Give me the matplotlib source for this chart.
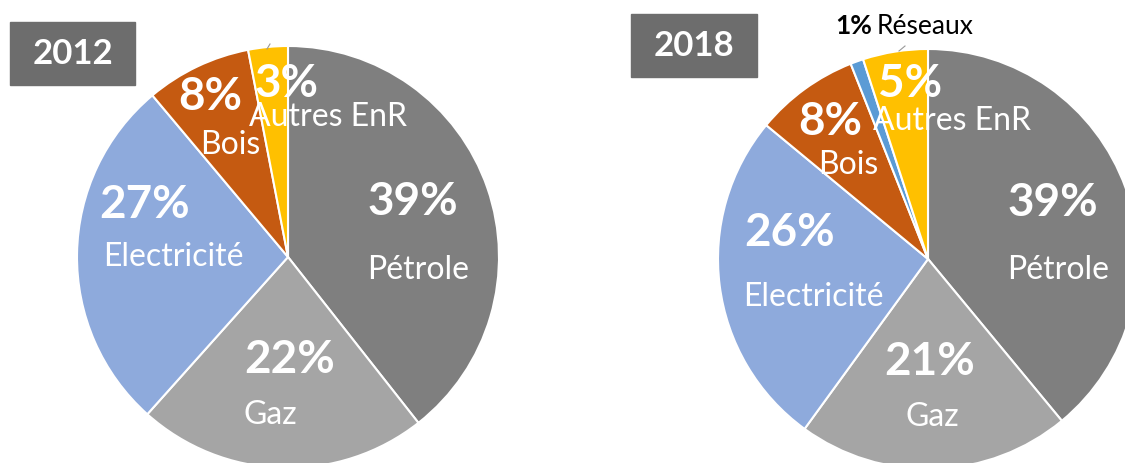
import matplotlib.pyplot as plt

# parts de chaque energie (en %), dans l'ordre horaire depuis le haut
labels_2012 = ["Pétrole", "Gaz", "Electricité", "Bois", "Autres EnR"]
values_2012 = [39, 22, 27, 8, 3]

labels_2018 = ["Pétrole", "Gaz", "Electricité", "Bois", "Réseaux", "Autres EnR"]
values_2018 = [39, 21, 26, 8, 1, 5]

colors = {
    "Pétrole": "#7f7f7f",
    "Gaz": "#a5a5a5",
    "Electricité": "#8eaadc",
    "Bois": "#c55a11",
    "Réseaux": "#5b9bd5",
    "Autres EnR": "#ffc000",
}

W, H = 1125, 464
plt.rcParams["font.family"] = ["Lato", "DejaVu Sans"]

fig = plt.figure(figsize=(W / 100, H / 100), dpi=100)
ax = fig.add_axes([0, 0, 1, 1])


def Y(y):
    # coordonnees pixel (y vers le bas) -> donnees
    return H - y


def draw_pie(labels, values, cx, cy, r):
    ax.pie(values, colors=[colors[l] for l in labels], startangle=90,
           counterclock=False, center=(cx, Y(cy)), radius=r,
           wedgeprops=dict(edgecolor="white", linewidth=1.5))


draw_pie(labels_2012, values_2012, 288, 258, 211)
draw_pie(labels_2018, values_2018, 928, 260, 210)

# positions des etiquettes (pixels) : (pourcentage, nom)
pos_2012 = {
    "Pétrole": ((413, 202), (418, 270)),
    "Gaz": ((290, 360), (270, 415)),
    "Electricité": ((145, 205), (173, 257)),
    "Bois": ((210, 97), (230, 145)),
    "Autres EnR": ((287, 84), (328, 117)),
}
pos_2018 = {
    "Pétrole": ((1053, 203), (1058, 270)),
    "Gaz": ((930, 362), (932, 417)),
    "Electricité": ((790, 233), (813, 297)),
    "Bois": ((830, 122), (848, 165)),
    "Autres EnR": ((910, 84), (952, 121)),
}

for labels, values, pos in [(labels_2012, values_2012, pos_2012),
                            (labels_2018, values_2018, pos_2018)]:
    for lab, val in zip(labels, values):
        if lab not in pos:
            continue
        (px, py), (nx, ny) = pos[lab]
        ax.text(px, Y(py), f"{val}%", color="white", fontsize=33,
                fontweight="bold", ha="center", va="center")
        ax.text(nx, Y(ny), lab, color="white", fontsize=23,
                ha="center", va="center")

# etiquette exterieure Réseaux
i = labels_2018.index("Réseaux")
ax.text(872, Y(26), f"{values_2018[i]}%", fontsize=19, fontweight="bold",
        color="black", ha="right", va="center")
ax.text(877, Y(26), labels_2018[i], fontsize=19, color="black",
        ha="left", va="center")
ax.plot([899, 905], [Y(52), Y(47)], color="#999999", lw=0.8)
ax.plot([267, 270], [Y(50), Y(45)], color="#999999", lw=0.8)

# cadres des annees
for (x0, y0, x1, y1), year in [((10, 23, 135, 86), "2012"),
                               ((631, 15, 757, 78), "2018")]:
    ax.add_patch(plt.Rectangle((x0, Y(y1)), x1 - x0, y1 - y0,
                               color="#6d6d6d", zorder=3))
    ax.text((x0 + x1) / 2, Y((y0 + y1) / 2), year, color="white",
            fontsize=25, fontweight="bold", ha="center", va="center",
            zorder=4)

ax.set_xlim(0, W)
ax.set_ylim(0, H)
ax.set_aspect("equal")
ax.axis("off")

fig.savefig("out.png", dpi=100)
